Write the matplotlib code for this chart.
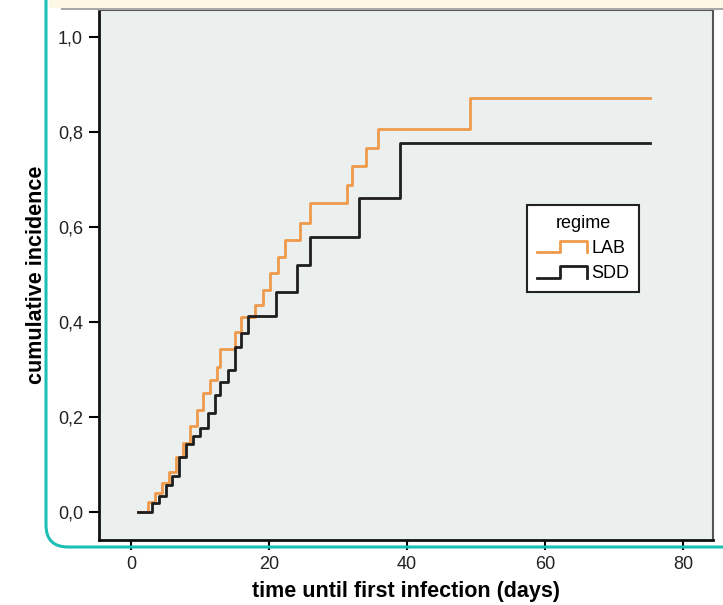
import matplotlib
matplotlib.use("Agg")
import matplotlib.pyplot as plt
from matplotlib.legend_handler import HandlerBase
from matplotlib.lines import Line2D
from matplotlib.patches import FancyBboxPatch, Rectangle

plt.rcParams['font.family'] = ['Liberation Sans', 'DejaVu Sans']

# cumulative incidence (step starts / levels)
lab_t = [1.0, 2.5, 3.5, 4.5, 5.5, 6.5, 7.5, 8.5, 9.5, 10.5, 11.5, 12.4, 12.9,
         15.1, 16.0, 18.0, 19.1, 20.1, 21.3, 22.3, 24.5, 26.0, 31.3, 32.0,
         34.1, 35.8, 49.1]
lab_y = [0.0, 0.02, 0.04, 0.06, 0.085, 0.115, 0.145, 0.18, 0.215, 0.25, 0.278,
         0.306, 0.343, 0.38, 0.41, 0.436, 0.467, 0.503, 0.537, 0.573, 0.608,
         0.65, 0.688, 0.728, 0.766, 0.806, 0.871]
sdd_t = [1.0, 3.1, 4.1, 5.0, 5.9, 6.9, 7.9, 9.0, 10.0, 11.1, 12.1, 12.9, 14.0,
         15.0, 15.9, 17.0, 21.0, 24.0, 26.0, 33.0, 39.0]
sdd_y = [0.0, 0.018, 0.034, 0.057, 0.076, 0.115, 0.143, 0.16, 0.176, 0.209,
         0.246, 0.274, 0.299, 0.348, 0.377, 0.413, 0.464, 0.52, 0.578, 0.662,
         0.776]
t_end = 75.2

groups = ["LAB", "SDD"]
colors = ["#ef9a4c", "#1e1e1e"]
y_ticks = [0.0, 0.2, 0.4, 0.6, 0.8, 1.0]
x_ticks = [0, 20, 40, 60, 80]


class StepHandler(HandlerBase):
    # little step drawing used in the legend
    def create_artists(self, legend, orig, xd, yd, w, h, fontsize, trans):
        x0, y0 = -xd, -yd
        xs = [x0, x0 + 0.45 * w, x0 + 0.45 * w, x0 + 0.95 * w, x0 + 0.95 * w]
        ys = [y0 + 0.05 * h, y0 + 0.05 * h, y0 + 0.95 * h, y0 + 0.95 * h, y0 + 0.05 * h]
        ln = Line2D(xs, ys, color=orig.get_color(), lw=orig.get_linewidth(),
                    transform=trans)
        return [ln]


fig = plt.figure(figsize=(7.23, 6.05), dpi=100)

# page decoration: teal rounded frame and cream strip at top
fig.patches.append(FancyBboxPatch((0.46, 0.58), 8.0, 8.0,
                                  boxstyle="round,pad=0,rounding_size=0.22",
                                  transform=fig.dpi_scale_trans, fill=False,
                                  ec="#1cbfb4", lw=2.2, zorder=0))
fig.patches.append(Rectangle((0.49, 5.97), 7.0, 0.2, transform=fig.dpi_scale_trans,
                             fc="#fdf8e6", ec="none", zorder=0))
fig.lines.append(Line2D([0.62, 7.23], [5.96, 5.96], transform=fig.dpi_scale_trans,
                        color="#a8a8a8", lw=1.5))

ax = fig.add_axes([99 / 723, 65 / 605, 614 / 723, 530 / 605])
ax.set_facecolor("#ebefed")

for t, y, c, g in zip([lab_t, sdd_t], [lab_y, sdd_y], colors, groups):
    ax.step(t + [t_end], y + [y[-1]], where="post", color=c, lw=2.0, label=g)

ax.set_xlim(-4.64, 84.35)
ax.set_ylim(-0.059, 1.057)
ax.set_xticks(x_ticks)
ax.set_yticks(y_ticks)
ax.set_yticklabels([f"{v:.1f}".replace(".", ",") for v in y_ticks])
ax.tick_params(direction="out", length=7.5, width=1.5, labelsize=13, pad=4,
               labelcolor="#222222")

for s in ["left", "bottom"]:
    ax.spines[s].set_linewidth(2.0)
    ax.spines[s].set_color("#111111")
for s in ["top", "right"]:
    ax.spines[s].set_linewidth(1.5)
    ax.spines[s].set_color("#555555")

ax.set_xlabel("time until first infection (days)", fontsize=15.5, fontweight="bold",
              labelpad=6)
ax.set_ylabel("cumulative incidence", fontsize=15.5, fontweight="bold", labelpad=8)

handles, labels = ax.get_legend_handles_labels()
leg = ax.legend(handles, labels, title="regime", loc="upper left",
                bbox_to_anchor=(0.697, 0.632), borderaxespad=0,
                fontsize=13, title_fontsize=13,
                handler_map={Line2D: StepHandler()}, handlelength=2.9,
                handletextpad=0.1, fancybox=False, framealpha=1,
                edgecolor="#222222", borderpad=0.55, labelspacing=0.45)
leg.get_frame().set_linewidth(1.5)

fig.savefig("out.png", dpi=100)
